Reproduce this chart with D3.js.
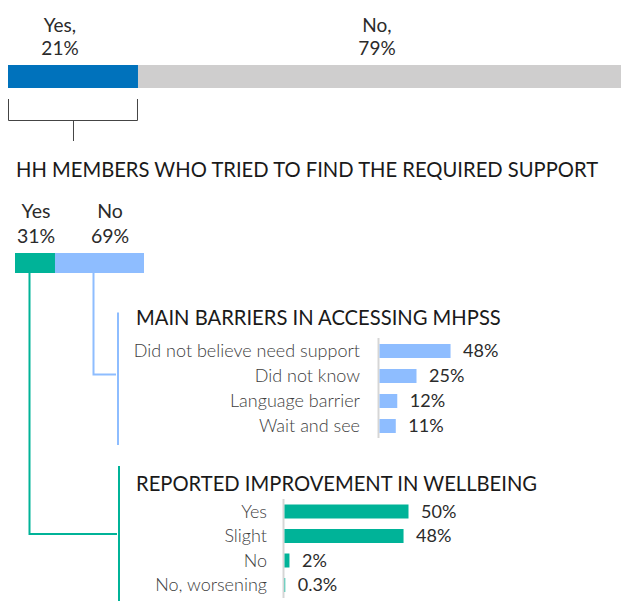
<!DOCTYPE html>
<html>
<head>
<meta charset="utf-8">
<script src="https://cdn.jsdelivr.net/npm/d3@7"></script>
<style>
  html, body { margin: 0; padding: 0; background: #fff; }
  svg { display: block; font-family: Lato, "Noto Sans", sans-serif; }
</style>
</head>
<body>
<svg id="chart" width="621" height="601"></svg>
<script>
// Share of HH members needing MHPSS support
const needCats = ["Yes,", "No,"];
const needVals = [21, 79];

// Of those, who tried to find the support
const triedCats = ["Yes", "No"];
const triedVals = [31, 69];

// Main barriers in accessing MHPSS (among those who did not try)
const barrierCats = ["Did not believe need support", "Did not know", "Language barrier", "Wait and see"];
const barrierVals = [48, 25, 12, 11];

// Reported improvement in wellbeing (among those who tried)
const wellCats = ["Yes", "Slight", "No", "No, worsening"];
const wellVals = [50, 48, 2, 0.3];

const C = {
  blue: "#0072bc", grey: "#cfcece", green: "#00b398", lightBlue: "#8ebdff",
  title: "#1a1a1a", label: "#3d3d3d", value: "#2b2b2b", bracket: "#444", axis: "#d6d6d6"
};

const svg = d3.select("#chart");

// stacked bar helper: cumulative starts from values
function stack(vals) {
  let acc = 0;
  return vals.map(v => { const s = acc; acc += v; return [s, acc]; });
}

// ---- Top bar: needed support ----
const xNeed = d3.scaleLinear().domain([0, 100]).range([8, 627]);
const needStack = stack(needVals);
svg.append("g").selectAll("rect").data(needStack).join("rect")
  .attr("x", d => xNeed(d[0])).attr("width", d => xNeed(d[1]) - xNeed(d[0]))
  .attr("y", 65).attr("height", 23)
  .attr("fill", (d, i) => i === 0 ? C.blue : C.grey);

const needLabelX = [60, 377];
const needG = svg.append("g").attr("font-size", 19).attr("fill", C.value).attr("text-anchor", "middle");
needCats.forEach((c, i) => {
  const t = needG.append("text");
  t.append("tspan").attr("x", needLabelX[i]).attr("y", 31.5).text(c);
  t.append("tspan").attr("x", needLabelX[i]).attr("y", 55).text(d3.format("d")(needVals[i]) + "%");
});

// bracket under the "Yes" segment
const bx0 = xNeed(needStack[0][0]), bx1 = xNeed(needStack[0][1]);
svg.append("path")
  .attr("d", `M${bx0 + 0.5},99V120.5H${bx1 - 0.5}V99M${(bx0 + bx1) / 2 + 0.5},120.5V141`)
  .attr("fill", "none").attr("stroke", C.bracket).attr("stroke-width", 1);

// ---- Section title ----
svg.append("text").attr("x", 16).attr("y", 177)
  .attr("font-size", 20.2).attr("fill", C.title)
  .text("HH MEMBERS WHO TRIED TO FIND THE REQUIRED SUPPORT");

// ---- Second bar: tried to find support ----
const xTried = d3.scaleLinear().domain([0, 100]).range([15, 144]);
const triedStack = stack(triedVals);
svg.append("g").selectAll("rect").data(triedStack).join("rect")
  .attr("x", d => xTried(d[0])).attr("width", d => xTried(d[1]) - xTried(d[0]))
  .attr("y", 253).attr("height", 20)
  .attr("fill", (d, i) => i === 0 ? C.green : C.lightBlue);

const triedLabelX = [36, 110];
const triedG = svg.append("g").attr("font-size", 19.5).attr("fill", C.value).attr("text-anchor", "middle");
triedCats.forEach((c, i) => {
  const t = triedG.append("text");
  t.append("tspan").attr("x", triedLabelX[i]).attr("y", 218).text(c);
  t.append("tspan").attr("x", triedLabelX[i]).attr("y", 242.5).text(triedVals[i] + "%");
});

// connectors from the tried bar to each sub chart
svg.append("path")
  .attr("d", "M93.5,273V374.5H116M118,312.5V445")
  .attr("fill", "none").attr("stroke", C.lightBlue).attr("stroke-width", 2);
svg.append("path")
  .attr("d", "M29.5,273V534H117M119,466V601")
  .attr("fill", "none").attr("stroke", C.green).attr("stroke-width", 2);

// ---- Horizontal bar chart helper ----
function hbars(opts) {
  const { cats, vals, x0, pxPerPct, yTop, yBot, axisTop, axisBot, labelRight, color, title, titleY } = opts;
  const x = d3.scaleLinear().domain([0, 1]).range([x0, x0 + pxPerPct]);
  const y = d3.scalePoint().domain(cats).range([yTop, yBot]);
  const g = svg.append("g");

  g.append("text").attr("x", 136).attr("y", titleY)
    .attr("font-size", 20.2).attr("fill", C.title).text(title);

  g.append("line").attr("x1", x0 - 0.5).attr("x2", x0 - 0.5)
    .attr("y1", axisTop).attr("y2", axisBot)
    .attr("stroke", C.axis).attr("stroke-width", 2);

  const rows = g.selectAll("g.row").data(cats.map((c, i) => ({ c, v: vals[i] }))).join("g").attr("class", "row");
  rows.append("rect")
    .attr("x", x(0) + 0.5).attr("y", d => y(d.c) - 7)
    .attr("width", d => Math.max(0, x(d.v) - x(0)))
    .attr("height", 14).attr("fill", color);
  rows.append("text")
    .attr("x", labelRight).attr("y", d => y(d.c)).attr("dy", "0.35em")
    .attr("text-anchor", "end").attr("font-size", 18).attr("font-weight", 300).attr("fill", C.label)
    .text(d => d.c);
  rows.append("text")
    .attr("x", d => x(d.v) + 13).attr("y", d => y(d.c)).attr("dy", "0.36em")
    .attr("font-size", 18).attr("fill", C.value)
    .text(d => d.v + "%");
}

hbars({
  cats: barrierCats, vals: barrierVals, x0: 379, pxPerPct: 1.48,
  yTop: 351, yBot: 426, axisTop: 338, axisBot: 438, labelRight: 360,
  color: C.lightBlue, title: "MAIN BARRIERS IN ACCESSING MHPSS", titleY: 325
});

hbars({
  cats: wellCats, vals: wellVals, x0: 284, pxPerPct: 2.48,
  yTop: 511.5, yBot: 585, axisTop: 499, axisBot: 598, labelRight: 267,
  color: C.green, title: "REPORTED IMPROVEMENT IN WELLBEING", titleY: 491
});
</script>
</body>
</html>
